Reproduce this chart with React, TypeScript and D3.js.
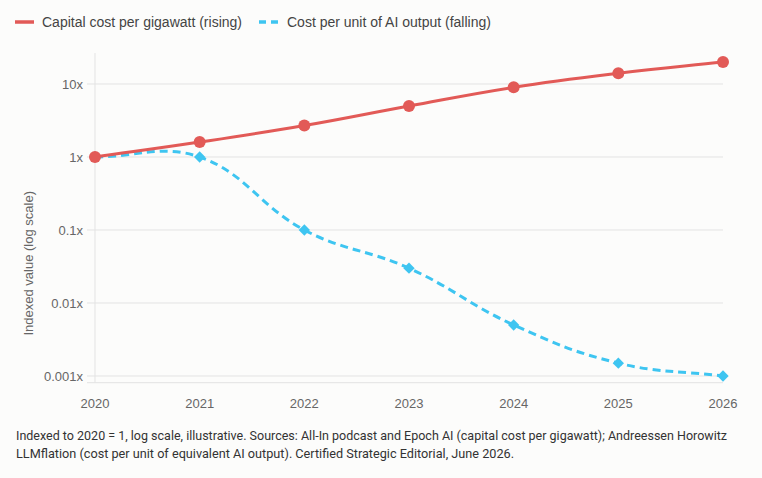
import * as d3 from 'd3'

// years on the x axis and the two indexed series (2020 = 1)
const years = [2020, 2021, 2022, 2023, 2024, 2025, 2026]
const capitalCost = [1, 1.6, 2.7, 5, 9, 14, 20]
const aiOutputCost = [1, 1, 0.1, 0.03, 0.005, 0.0015, 0.001]
const yTicks = [0.001, 0.01, 0.1, 1, 10]
const yTickLabels = ['0.001x', '0.01x', '0.1x', '1x', '10x']

const legendItems = ['Capital cost per gigawatt (rising)', 'Cost per unit of AI output (falling)']
const footnoteLines = [
  'Indexed to 2020 = 1, log scale, illustrative. Sources: All-In podcast and Epoch AI (capital cost per gigawatt); Andreessen Horowitz',
  'LLMflation (cost per unit of equivalent AI output). Certified Strategic Editorial, June 2026.',
]

const W = 762
const H = 478
const RED = '#e25a57'
const BLUE = '#3ec5f1'
const GRID = '#e3e3e3'
const FONT = '"Liberation Sans", Arial, sans-serif'

// distance-weighted spline through the points, like chart.js with tension 0.4
function spline(pts: [number, number][], t = 0.4) {
  const p = d3.path()
  const ctrl = pts.map((cur, i) => {
    const prev = pts[Math.max(0, i - 1)]
    const next = pts[Math.min(pts.length - 1, i + 1)]
    const d01 = Math.hypot(cur[0] - prev[0], cur[1] - prev[1])
    const d12 = Math.hypot(next[0] - cur[0], next[1] - cur[1])
    const s01 = d01 / (d01 + d12 || 1)
    const s12 = d12 / (d01 + d12 || 1)
    const fa = t * s01
    const fb = t * s12
    return {
      prev: [cur[0] - fa * (next[0] - prev[0]), cur[1] - fa * (next[1] - prev[1])],
      next: [cur[0] + fb * (next[0] - prev[0]), cur[1] + fb * (next[1] - prev[1])],
    }
  })
  p.moveTo(pts[0][0], pts[0][1])
  for (let i = 1; i < pts.length; i++) {
    const a = ctrl[i - 1].next
    const b = ctrl[i].prev
    p.bezierCurveTo(a[0], a[1], b[0], b[1], pts[i][0], pts[i][1])
  }
  return p.toString()
}

export default function App() {
  const x = d3.scaleLinear().domain([2020, 2026]).range([95, 723])
  const y = d3.scaleLog().domain([0.001, 10]).range([376, 84])

  const plotTop = y(26.5)
  const plotBottom = y(0.00081)

  const toPoints = (vals: number[]) => vals.map((v, i) => [x(years[i]), y(v)] as [number, number])

  const diamond = d3.symbol().type(d3.symbolSquare).size(64)()!

  return (
    <div style={{ position: 'fixed', left: 0, top: 0 }}>
      <svg width={W} height={H} style={{ display: 'block' }}>
        <rect width={W} height={H} fill="#fcfcfb" />

        {/* legend */}
        <g fontFamily={FONT} fontSize={14} fill="#444">
          <line x1={15} x2={34} y1={22} y2={22} stroke={RED} strokeWidth={3.5} />
          <text x={42} y={27}>{legendItems[0]}</text>
          <line x1={259} x2={279} y1={22} y2={22} stroke={BLUE} strokeWidth={3.5} strokeDasharray="7,5" />
          <text x={287} y={27}>{legendItems[1]}</text>
        </g>

        {/* grid */}
        <g>
          {yTicks.map(t => (
            <line key={t} x1={87} x2={723} y1={y(t)} y2={y(t)} stroke={GRID} strokeWidth={1} />
          ))}
          <line x1={87} x2={723} y1={plotBottom} y2={plotBottom} stroke={GRID} strokeWidth={1} />
          <line x1={95} x2={95} y1={plotTop} y2={plotBottom} stroke={GRID} strokeWidth={1} />
        </g>

        {/* y axis */}
        <g fontFamily={FONT} fontSize={13} fill="#666">
          {yTicks.map((t, i) => (
            <text key={t} x={83} y={y(t) + 4.5} textAnchor="end">{yTickLabels[i]}</text>
          ))}
          <text transform={`translate(33, ${y(0.035)}) rotate(-90)`} textAnchor="middle">
            Indexed value (log scale)
          </text>
        </g>

        {/* x axis */}
        <g fontFamily={FONT} fontSize={13} fill="#666">
          {years.map(yr => (
            <text key={yr} x={x(yr)} y={408} textAnchor="middle">{yr}</text>
          ))}
        </g>

        {/* series */}
        <path d={spline(toPoints(aiOutputCost))} fill="none" stroke={BLUE} strokeWidth={3} strokeDasharray="8,5" />
        <path d={spline(toPoints(capitalCost))} fill="none" stroke={RED} strokeWidth={3} />
        {aiOutputCost.map((v, i) => (
          <path key={i} d={diamond} fill={BLUE}
            transform={`translate(${x(years[i])}, ${y(v)}) rotate(45)`} />
        ))}
        {capitalCost.map((v, i) => (
          <circle key={i} cx={x(years[i])} cy={y(v)} r={6} fill={RED} />
        ))}

        {/* footnote */}
        <g fontFamily='Roboto, "Liberation Sans", sans-serif' fontSize={13} fill="#333">
          <text x={16} y={440} textLength={711} lengthAdjust="spacingAndGlyphs">{footnoteLines[0]}</text>
          <text x={16} y={458} textLength={498} lengthAdjust="spacingAndGlyphs">{footnoteLines[1]}</text>
        </g>
      </svg>
    </div>
  )
}
